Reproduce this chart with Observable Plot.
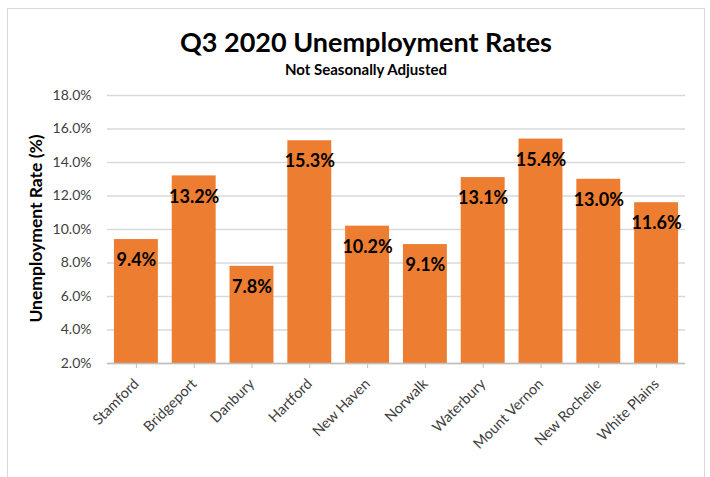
<!DOCTYPE html>
<html>
<head>
<meta charset="utf-8">
<script src="https://cdn.jsdelivr.net/npm/d3@7"></script>
<script src="https://cdn.jsdelivr.net/npm/@observablehq/plot@0.6"></script>
<style>
  html, body { margin: 0; padding: 0; background: #fff; }
  #wrap { position: relative; width: 710px; height: 477px; overflow: hidden; font-family: Lato, "Open Sans", sans-serif; }
  #frame { position: absolute; left: 7px; top: 8px; width: 698px; height: 490px; border: 1px solid #d9d9d9; box-sizing: border-box; }
  #title { position: absolute; left: 0; width: 732px; top: 26px; text-align: center; font-weight: bold; font-size: 27px; line-height: 32px; color: #000; }
  #subtitle { position: absolute; left: 0; width: 732px; top: 59px; text-align: center; font-weight: bold; font-size: 15px; line-height: 20px; color: #000; }
  #chart { position: absolute; left: 0; top: 0; }
</style>
</head>
<body>
<div id="wrap">
  <div id="frame"></div>
  <div id="title">Q3 2020 Unemployment Rates</div>
  <div id="subtitle">Not Seasonally Adjusted</div>
  <div id="chart"></div>
</div>
<script>
const cities = ["Stamford", "Bridgeport", "Danbury", "Hartford", "New Haven", "Norwalk", "Waterbury", "Mount Vernon", "New Rochelle", "White Plains"];
const rates = [9.4, 13.2, 7.8, 15.3, 10.2, 9.1, 13.1, 15.4, 13.0, 11.6];
const yTicks = [2, 4, 6, 8, 10, 12, 14, 16, 18];
const yLabel = "Unemployment Rate (%)";

const data = cities.map((c, i) => ({city: c, rate: rates[i]}));

const chart = Plot.plot({
  width: 710,
  height: 477,
  marginLeft: 107,
  marginRight: 25,
  marginTop: 95,
  marginBottom: 114,
  style: {fontFamily: "Lato, 'Open Sans', sans-serif", fontSize: "14px", color: "#404040", background: "transparent", overflow: "visible"},
  x: {domain: cities, paddingInner: 0.24, paddingOuter: 0.12, round: false, label: null},
  y: {domain: [2, 18], label: null},
  marks: [
    Plot.gridY(yTicks, {stroke: "#d9d9d9", strokeOpacity: 1, strokeWidth: 1.5}),
    Plot.axisY(yTicks, {tickSize: 0, tickPadding: 16, tickFormat: d => d.toFixed(1) + "%", fontSize: 14, fill: "#404040", label: null}),
    Plot.barY(data, {x: "city", y1: 2, y2: "rate", fill: "#ED7D31"}),
    Plot.ruleY([2], {stroke: "#bfbfbf", strokeWidth: 1.5}),
    Plot.axisX({tickRotate: -45, tickSize: 5, tickPadding: 13, stroke: "#bfbfbf", fill: "#404040", fontSize: 14.5, label: null}),
    Plot.text(data, {x: "city", y: "rate", text: d => d.rate.toFixed(1) + "%", dy: 21, fontWeight: "bold", fontSize: 18, fill: "#000"}),
    Plot.text([yLabel], {frameAnchor: "left", textAnchor: "middle", dx: -71, dy: -1, rotate: -90, text: d => d, fontWeight: "bold", fontSize: 17.5, fill: "#000"})
  ]
});
document.getElementById("chart").appendChild(chart);
</script>
</body>
</html>
